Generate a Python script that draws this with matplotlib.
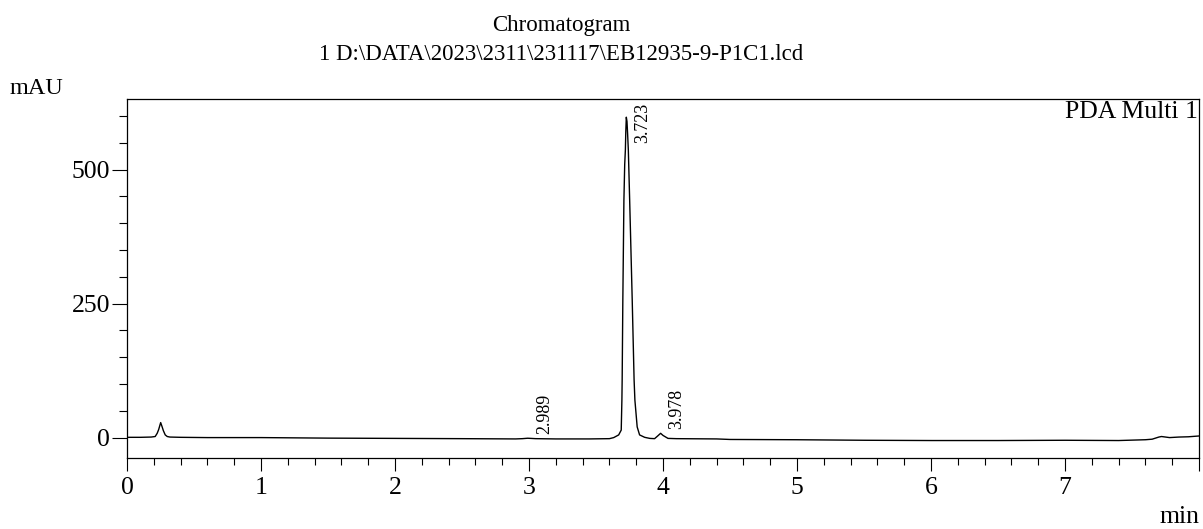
import matplotlib
matplotlib.use("Agg")
import matplotlib.pyplot as plt
from matplotlib.ticker import MultipleLocator

plt.rcParams['font.family'] = ['Liberation Serif', 'DejaVu Serif']

# trace: retention time (min) and absorbance (mAU)
time_min = [0.00, 0.10, 0.18, 0.21, 0.225, 0.236, 0.251, 0.262, 0.271, 0.285, 0.30, 0.32,
            0.40, 0.60, 1.00, 1.50, 2.00, 2.50, 2.90, 2.95, 2.99, 3.05, 3.20, 3.45,
            3.60, 3.632, 3.669, 3.688, 3.693, 3.695, 3.700, 3.708, 3.714, 3.719, 3.722,
            3.726, 3.731, 3.736, 3.741, 3.751, 3.770, 3.784, 3.790, 3.807, 3.825, 3.863,
            3.901, 3.937, 3.960, 3.982, 4.000, 4.037, 4.10, 4.40, 4.50, 5.00, 5.50,
            6.00, 6.50, 7.00, 7.40, 7.60, 7.65, 7.70, 7.72, 7.78, 7.85, 7.92, 8.00]
mau = [0.5, 0.5, 1, 2, 8, 15, 28, 20, 13, 5, 2, 1,
       0.5, 0, 0, -1, -1.5, -2, -2.5, -2, -1.2, -2, -2.5, -2.5,
       -2, 0, 5, 14, 70, 108, 257, 443, 510, 537, 570,
       598, 590, 565, 537, 443, 257, 108, 70, 20, 5, 0.5,
       -1.5, -2, 3, 8, 4, -1.5, -2, -2.5, -3.5, -4, -5,
       -5.5, -5.5, -5, -5.5, -4, -3, 1, 2, 0, 1, 1.5, 3]

peak_rt = [2.989, 3.723, 3.978]
peak_labels = ["2.989", "3.723", "3.978"]
peak_height = [-1.2, 598, 8]

fig = plt.figure(figsize=(12.03, 5.29), dpi=100)
ax = fig.add_axes([0.1056, 0.1333, 0.8911, 0.6796])

ax.plot(time_min, mau, color='black', lw=1.0)

ax.set_xlim(0, 8)
ax.set_ylim(-39, 632)

ax.set_xticks(range(0, 9))
ax.set_xticklabels([str(i) for i in range(0, 8)] + [''])
ax.xaxis.set_minor_locator(MultipleLocator(0.2))
ax.set_yticks([0, 250, 500])
ax.yaxis.set_minor_locator(MultipleLocator(50))

ax.tick_params(axis='x', which='major', length=9.1, width=0.8, pad=4.5, labelsize=18.5)
ax.tick_params(axis='x', which='minor', length=4.8, width=0.8)
ax.tick_params(axis='y', which='major', length=10.8, width=0.8, pad=1.4, labelsize=18.5)
ax.tick_params(axis='y', which='minor', length=5.5, width=0.8)
for s in ax.spines.values():
    s.set_linewidth(0.9)

# peak labels
for rt, lab, h in zip(peak_rt, peak_labels, peak_height):
    if h > 500:
        ax.annotate(lab, xy=(rt, 1.0), xycoords=('data', 'axes fraction'),
                    xytext=(6.0, -2.5), textcoords='offset points',
                    rotation=90, ha='left', va='top', fontsize=13)
    else:
        ax.annotate(lab, xy=(rt, h), xytext=(6.0, 3.2), textcoords='offset points',
                    rotation=90, ha='left', va='bottom', fontsize=13)

ax.text(0.9988, 0.995, "PDA Multi 1", transform=ax.transAxes,
        ha='right', va='top', fontsize=18.5)

fig.text(561 / 1203, 1 - 25 / 529, "Chromatogram", ha='center', va='center', fontsize=16.5)
fig.text(561 / 1203, 1 - 54 / 529, "1 D:\\DATA\\2023\\2311\\231117\\EB12935-9-P1C1.lcd",
         ha='center', va='center', fontsize=16.5)
fig.text(10 / 1203, 1 - 88 / 529, "mAU", ha='left', va='center', fontsize=17.5)
fig.text(1199 / 1203, 1 - 523 / 529, "min", ha='right', va='baseline', fontsize=18.5)

fig.savefig("out.png", dpi=100)
